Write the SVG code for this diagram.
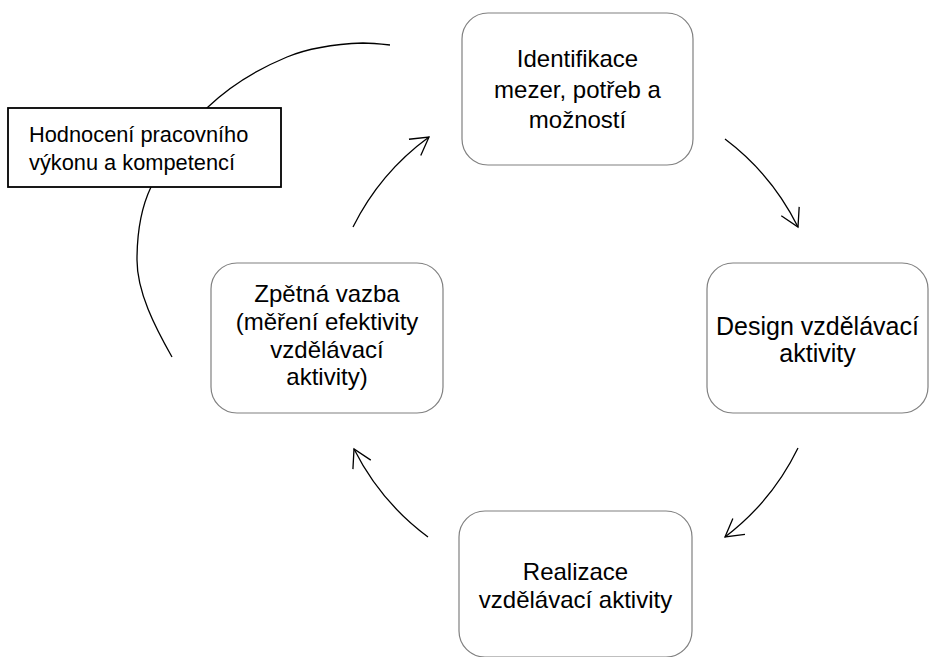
<svg xmlns="http://www.w3.org/2000/svg" width="929" height="657" viewBox="0 0 929 657">
<style>
  .box { fill: #ffffff; stroke: #808080; stroke-width: 1.2; }
  .note { fill: #ffffff; stroke: #000000; stroke-width: 1.8; }
  .t { font-family: "Liberation Sans", Arial, sans-serif; font-size: 24px; fill: #000000; text-anchor: middle; }
  .tn { font-family: "Liberation Sans", Arial, sans-serif; font-size: 21.8px; fill: #000000; }
  .c { fill: none; stroke: #000000; stroke-width: 1.3; }
</style>
<defs>
  <marker id="arr" markerUnits="userSpaceOnUse" markerWidth="30" markerHeight="30" refX="0" refY="0" viewBox="-25 -15 30 30" orient="auto">
    <path d="M-17.5,-10 L0,0 L-17.5,10" fill="none" stroke="#000000" stroke-width="1.3"/>
  </marker>
</defs>
<rect width="929" height="657" fill="#ffffff"/>
<g id="connectors">
  <path class="c" d="M172,357 C155,327 137,292 137,260 C137,235 140,210 151,187 C165,157 184,130 208,107 C230,86 258.5,68.8 287,57 C311,47 337,44 363,43 C372,43 381,44 390,45"/>
  <path class="c" marker-end="url(#arr)" d="M353,227 A248.5,248.5 0 0 1 429,137"/>
  <path class="c" marker-end="url(#arr)" d="M725,139 A248.5,248.5 0 0 1 798,227"/>
  <path class="c" marker-end="url(#arr)" d="M798,448 A248.5,248.5 0 0 1 725,537"/>
  <path class="c" marker-end="url(#arr)" d="M428,537 A248.5,248.5 0 0 1 354,449"/>
</g>
<g id="hodnoceni">
  <rect class="note" x="8" y="108" width="273" height="79"/>
  <text class="tn" x="29" y="142">Hodnocení pracovního</text>
  <text class="tn" x="29" y="170">výkonu a kompetencí</text>
</g>
<g id="identifikace">
  <rect class="box" x="462" y="13" width="231" height="152" rx="26" ry="26"/>
  <text class="t" x="577.5" y="67">Identifikace</text>
  <text class="t" x="577.5" y="98">mezer, potřeb a</text>
  <text class="t" x="577.5" y="128">možností</text>
</g>
<g id="design">
  <rect class="box" x="707" y="263" width="221" height="150" rx="26" ry="26"/>
  <text class="t" x="817.5" y="335" style="font-size:25px">Design vzdělávací</text>
  <text class="t" x="817.5" y="362" style="font-size:25px">aktivity</text>
</g>
<g id="realizace">
  <rect class="box" x="459" y="511" width="233" height="146" rx="26" ry="26"/>
  <text class="t" x="575.5" y="580">Realizace</text>
  <text class="t" x="575.5" y="608">vzdělávací aktivity</text>
</g>
<g id="zpetna">
  <rect class="box" x="211" y="263" width="232" height="150" rx="26" ry="26"/>
  <text class="t" x="327" y="302">Zpětná vazba</text>
  <text class="t" x="327" y="330">(měření efektivity</text>
  <text class="t" x="327" y="358">vzdělávací</text>
  <text class="t" x="327" y="385">aktivity)</text>
</g>
</svg>
